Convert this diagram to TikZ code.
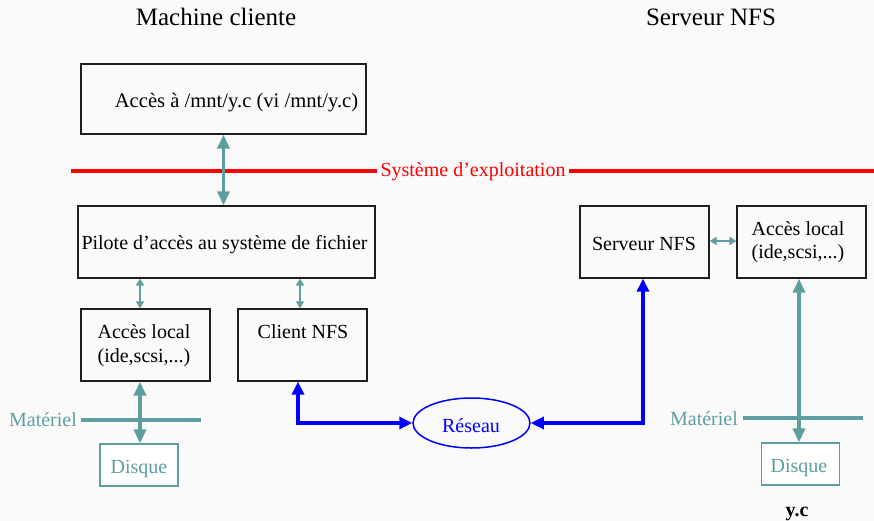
\documentclass[tikz,border=0pt]{standalone}
\usepackage{fontspec}
\setmainfont{Liberation Serif}
\usetikzlibrary{arrows.meta,shapes.geometric}
\definecolor{tealc}{RGB}{95,158,160}
\definecolor{bgc}{RGB}{250,250,250}
\definecolor{boxc}{RGB}{30,30,30}
\begin{document}
\begin{tikzpicture}[x=1pt,y=-1pt,
  box/.style={draw=boxc,line width=1.3pt,inner sep=0pt,minimum width=#1,minimum height=72pt},
  box/.default=129pt,
  disk/.style={draw=tealc,fill=white,line width=1.2pt,inner sep=0pt,minimum width=78pt,minimum height=42pt},
  txt/.style={font=\fontsize{20}{24}\selectfont,anchor=base,inner sep=0pt},
  ttl/.style={font=\fontsize{25}{30}\selectfont,anchor=base,inner sep=0pt},
  bigarr/.style={tealc,line width=3.5pt,{Triangle[length=14pt,width=12pt]}-{Triangle[length=14pt,width=12pt]}},
  smallarr/.style={tealc,line width=2pt,{Triangle[length=7pt,width=8pt]}-{Triangle[length=7pt,width=8pt]}},
  netarr/.style={blue,line width=3.5pt,{Triangle[length=13pt,width=12pt]}-{Triangle[length=13pt,width=12pt]}},
  hwline/.style={tealc,line width=4pt},
  osline/.style={red,line width=4pt}]
\fill[bgc] (0,0) rectangle (874,521);
\useasboundingbox (0,0) rectangle (874,521);

% titles
\node[ttl] (t1) at (216,26) {Machine cliente};
\node[ttl] (t2) at (711,26) {Serveur NFS};

% boxes
\node[box=285pt,minimum height=70pt] (acces) at (223.5,99) {};
\node[txt,font=\fontsize{20.6}{24}\selectfont] (accest) at (236.5,108) {Accès à /mnt/y.c (vi /mnt/y.c)};

\node[box=297pt] (pilote) at (226.5,242) {};
\node[txt] (pilotet) at (224.5,249) {Pilote d’accès au système de fichier};

\node[box] (alocL) at (145.5,345) {};
\node[txt] (alocLa) at (144,338) {Accès local};
\node[txt] (alocLb) at (144,362) {(ide,scsi,...)};

\node[box] (client) at (302.5,345) {};
\node[txt] (clientt) at (303,338) {Client NFS};

\node[box] (serveur) at (644.5,242) {};
\node[txt] (serveurt) at (644,250) {Serveur NFS};

\node[box] (alocR) at (801.5,242) {};
\node[txt] (alocRa) at (798,235) {Accès local};
\node[txt] (alocRb) at (798,258) {(ide,scsi,...)};

\node[disk] (diskL) at (139,465) {};
\node[txt,text=tealc] (diskLt) at (139,473) {Disque};
\node[disk] (diskR) at (800.5,464) {};
\node[txt,text=tealc] (diskRt) at (799,472) {Disque};

\node[draw=blue,line width=1.5pt,ellipse,minimum width=117pt,minimum height=50pt,inner sep=0pt] (reseau) at (471.5,423) {};
\node[txt,text=blue] (reseaut) at (471,432) {Réseau};

% OS line
\node[txt,text=red] (os) at (473,177) {Système d’exploitation};
\coordinate (osL) at (71,171);
\coordinate (osR) at (874,171);
\draw[osline] (osL) -- (377,171);
\draw[osline] (569,171) -- (osR);

% hardware lines
\node[txt,text=tealc] (matL) at (43,426) {Matériel};
\coordinate (hwL1) at (81,420);
\coordinate (hwL2) at (201,420);
\draw[hwline] (hwL1) -- (hwL2);
\node[txt,text=tealc] (matR) at (704,425) {Matériel};
\coordinate (hwR1) at (743,418);
\coordinate (hwR2) at (863,418);
\draw[hwline] (hwR1) -- (hwR2);

% connectors
\draw[bigarr] (acces.south) -- (acces.south |- pilote.north);
\draw[smallarr] (pilote.south -| 140,0) -- (alocL.north -| 140,0);
\draw[smallarr] (pilote.south -| 300,0) -- (client.north -| 300,0);
\draw[bigarr] (alocL.south -| 140,0) -- (diskL.north -| 140,0);
\draw[bigarr] (alocR.south -| 799,0) -- (diskR.north -| 799,0);
\draw[smallarr] (serveur.east |- 0,241) -- (alocR.west |- 0,241);
\draw[netarr] (client.south -| 298,0) |- (reseau.west);
\draw[netarr] (serveur.south -| 643,0) |- (reseau.east);

\node[font=\bfseries\fontsize{20}{24}\selectfont,anchor=base,inner sep=0pt] (yc) at (797,516) {y.c};
\end{tikzpicture}
\end{document}
